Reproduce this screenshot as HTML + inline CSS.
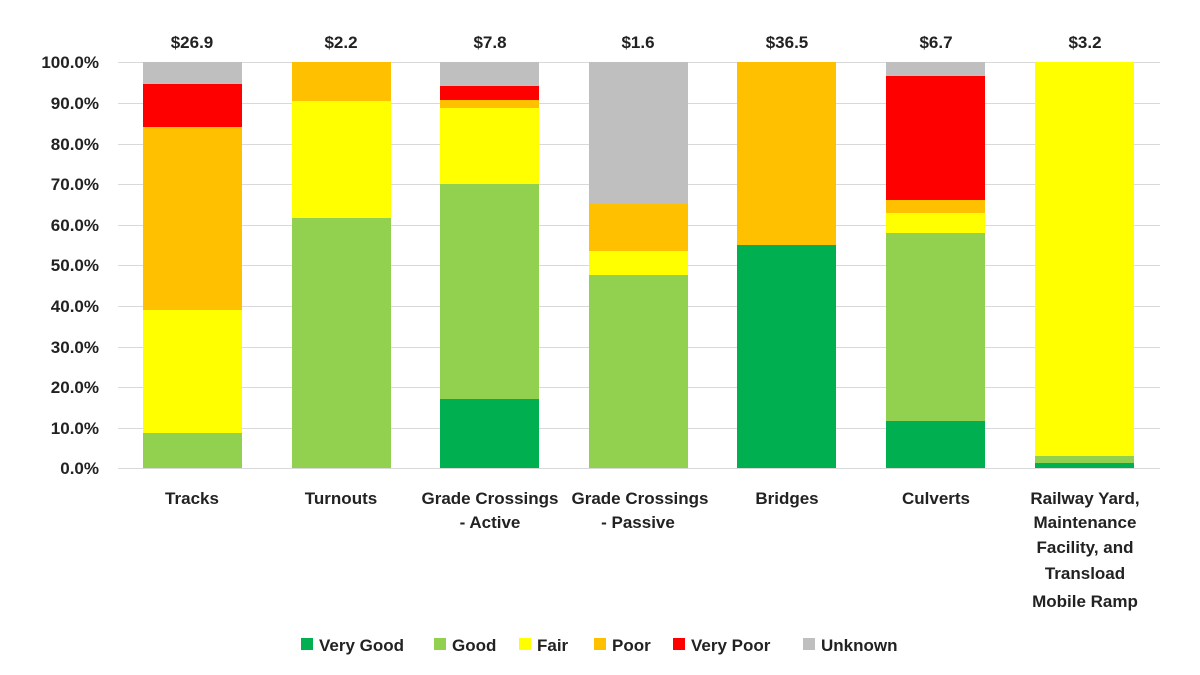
<!DOCTYPE html>
<html><head><meta charset="utf-8"><style>
html,body{margin:0;padding:0;background:#fff;}
svg{display:block;font-family:"Liberation Sans",Arial,sans-serif;font-weight:bold;}
</style></head><body>
<svg width="1200" height="675" viewBox="0 0 1200 675" xmlns="http://www.w3.org/2000/svg">
<g stroke="#d9d9d9" stroke-width="1">
<line x1="118" x2="1160" y1="62.5" y2="62.5"/><line x1="118" x2="1160" y1="103.5" y2="103.5"/>
<line x1="118" x2="1160" y1="144.5" y2="144.5"/><line x1="118" x2="1160" y1="184.5" y2="184.5"/>
<line x1="118" x2="1160" y1="225.5" y2="225.5"/><line x1="118" x2="1160" y1="265.5" y2="265.5"/>
<line x1="118" x2="1160" y1="306.5" y2="306.5"/><line x1="118" x2="1160" y1="347.5" y2="347.5"/>
<line x1="118" x2="1160" y1="387.5" y2="387.5"/><line x1="118" x2="1160" y1="428.5" y2="428.5"/>
<line x1="118" x2="1160" y1="468.5" y2="468.5"/>
</g>
<g font-size="17" fill="#222" text-anchor="end">
<text x="99" y="68">100.0%</text><text x="99" y="109">90.0%</text><text x="99" y="150">80.0%</text>
<text x="99" y="190">70.0%</text><text x="99" y="231">60.0%</text><text x="99" y="271">50.0%</text>
<text x="99" y="312">40.0%</text><text x="99" y="353">30.0%</text><text x="99" y="393">20.0%</text>
<text x="99" y="434">10.0%</text><text x="99" y="474">0.0%</text>
</g>
<g transform="translate(143,0)">
<rect width="99" y="433" height="35" fill="#92D050"/><rect width="99" y="310" height="123" fill="#FFFF00"/>
<rect width="99" y="127" height="183" fill="#FFC000"/><rect width="99" y="84" height="43" fill="#FF0000"/>
<rect width="99" y="62" height="22" fill="#BFBFBF"/></g>
<g transform="translate(292,0)">
<rect width="99" y="218" height="250" fill="#92D050"/><rect width="99" y="101" height="117" fill="#FFFF00"/>
<rect width="99" y="62" height="39" fill="#FFC000"/></g>
<g transform="translate(440,0)">
<rect width="99" y="399" height="69" fill="#00B050"/><rect width="99" y="184" height="215" fill="#92D050"/>
<rect width="99" y="108" height="76" fill="#FFFF00"/><rect width="99" y="100" height="8" fill="#FFC000"/>
<rect width="99" y="86" height="14" fill="#FF0000"/><rect width="99" y="62" height="24" fill="#BFBFBF"/></g>
<g transform="translate(589,0)">
<rect width="99" y="275" height="193" fill="#92D050"/><rect width="99" y="251" height="24" fill="#FFFF00"/>
<rect width="99" y="204" height="47" fill="#FFC000"/><rect width="99" y="62" height="142" fill="#BFBFBF"/></g>
<g transform="translate(737,0)">
<rect width="99" y="245" height="223" fill="#00B050"/><rect width="99" y="62" height="183" fill="#FFC000"/></g>
<g transform="translate(886,0)">
<rect width="99" y="421" height="47" fill="#00B050"/><rect width="99" y="233" height="188" fill="#92D050"/>
<rect width="99" y="213" height="20" fill="#FFFF00"/><rect width="99" y="200" height="13" fill="#FFC000"/>
<rect width="99" y="76" height="124" fill="#FF0000"/><rect width="99" y="62" height="14" fill="#BFBFBF"/></g>
<g transform="translate(1035,0)">
<rect width="99" y="463" height="5" fill="#00B050"/><rect width="99" y="456" height="7" fill="#92D050"/>
<rect width="99" y="62" height="394" fill="#FFFF00"/></g>
<g font-size="17" fill="#222" text-anchor="middle">
<text x="192" y="48">$26.9</text><text x="341" y="48">$2.2</text><text x="490" y="48">$7.8</text>
<text x="638" y="48">$1.6</text><text x="787" y="48">$36.5</text><text x="936" y="48">$6.7</text>
<text x="1085" y="48">$3.2</text>
<text x="192" y="504">Tracks</text><text x="341" y="504">Turnouts</text>
<text x="490" y="504">Grade Crossings</text><text x="490" y="528">- Active</text>
<text x="640" y="504">Grade Crossings</text><text x="638" y="528">- Passive</text>
<text x="787" y="504">Bridges</text><text x="936" y="504">Culverts</text>
<text x="1085" y="504">Railway Yard,</text><text x="1085" y="528">Maintenance</text>
<text x="1085" y="553">Facility, and</text><text x="1085" y="579">Transload</text>
<text x="1085" y="607">Mobile Ramp</text>
</g>
<g font-size="17" fill="#222">
<rect x="301" y="638" width="12" height="12" fill="#00B050"/><text x="319" y="651">Very Good</text>
<rect x="434" y="638" width="12" height="12" fill="#92D050"/><text x="452" y="651">Good</text>
<rect x="519" y="638" width="12" height="12" fill="#FFFF00"/><text x="537" y="651">Fair</text>
<rect x="594" y="638" width="12" height="12" fill="#FFC000"/><text x="612" y="651">Poor</text>
<rect x="673" y="638" width="12" height="12" fill="#FF0000"/><text x="691" y="651">Very Poor</text>
<rect x="803" y="638" width="12" height="12" fill="#BFBFBF"/><text x="821" y="651">Unknown</text>
</g>
</svg>
</body></html>
